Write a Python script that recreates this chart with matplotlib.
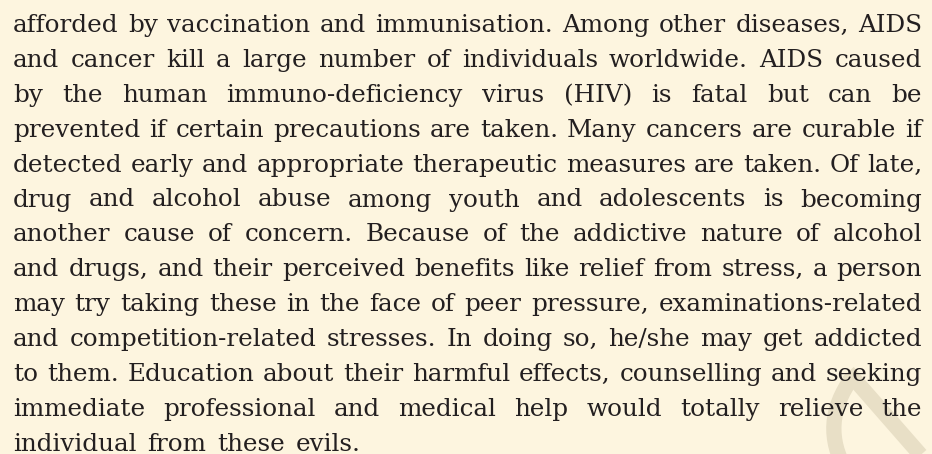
import matplotlib
matplotlib.use("Agg")
import matplotlib.pyplot as plt
from matplotlib.transforms import IdentityTransform
from matplotlib.path import Path
from matplotlib.patches import PathPatch

lines = [
    "afforded by vaccination and immunisation. Among other diseases, AIDS",
    "and cancer kill a large number of individuals worldwide. AIDS caused",
    "by the human immuno-deficiency virus (HIV) is fatal but can be",
    "prevented if certain precautions are taken. Many cancers are curable if",
    "detected early and appropriate therapeutic measures are taken. Of late,",
    "drug and alcohol abuse among youth and adolescents is becoming",
    "another cause of concern. Because of the addictive nature of alcohol",
    "and drugs, and their perceived benefits like relief from stress, a person",
    "may try taking these in the face of peer pressure, examinations-related",
    "and competition-related stresses. In doing so, he/she may get addicted",
    "to them. Education about their harmful effects, counselling and seeking",
    "immediate professional and medical help would totally relieve the",
    "individual from these evils.",
]

W, H = 932, 454
BG = "#fdf5df"
FG = "#231f20"
fig = plt.figure(figsize=(W / 100, H / 100), dpi=100, facecolor=BG)

# faint watermark stroke (bottom right)
wm = "#e8dfc6"
ax = fig.add_axes([0, 0, 1, 1])
ax.set_xlim(0, W)
ax.set_ylim(H, 0)
ax.axis("off")
ax.set_facecolor(BG)
verts = [(852, 378), (830, 408), (828, 440), (846, 470)]
ax.add_patch(PathPatch(Path(verts, [Path.MOVETO, Path.CURVE4, Path.CURVE4, Path.CURVE4]),
                       fill=False, lw=11, edgecolor=wm, capstyle="butt", zorder=0))
ax.plot([848, 925], [372, 460], color=wm, lw=11, solid_capstyle="butt", zorder=0)

renderer = fig.canvas.get_renderer()
font = dict(family="DejaVu Serif", size=17.7, color=FG)

left, right = 13, 922
base0, step = 32, 34.9
t = fig.text(0, 0, "a a", transform=IdentityTransform(), **font)
t2 = fig.text(0, 0, "aa", transform=IdentityTransform(), **font)
space_natural = t.get_window_extent(renderer).width - t2.get_window_extent(renderer).width
t.remove(); t2.remove()

for i, line in enumerate(lines):
    words = line.split(" ")
    y = H - (base0 + i * step)
    texts = []
    widths = []
    for w in words:
        t = fig.text(0, y, w, transform=IdentityTransform(), va="baseline", ha="left", **font)
        texts.append(t)
        widths.append(t.get_window_extent(renderer).width)
    if i < len(lines) - 1 and len(words) > 1:
        gap = (right - left - sum(widths)) / (len(words) - 1)
    else:
        gap = space_natural * 1.4
    x = left
    for t, wd in zip(texts, widths):
        t.set_x(x)
        x += wd + gap

fig.savefig("out.png", dpi=100, facecolor=BG)
